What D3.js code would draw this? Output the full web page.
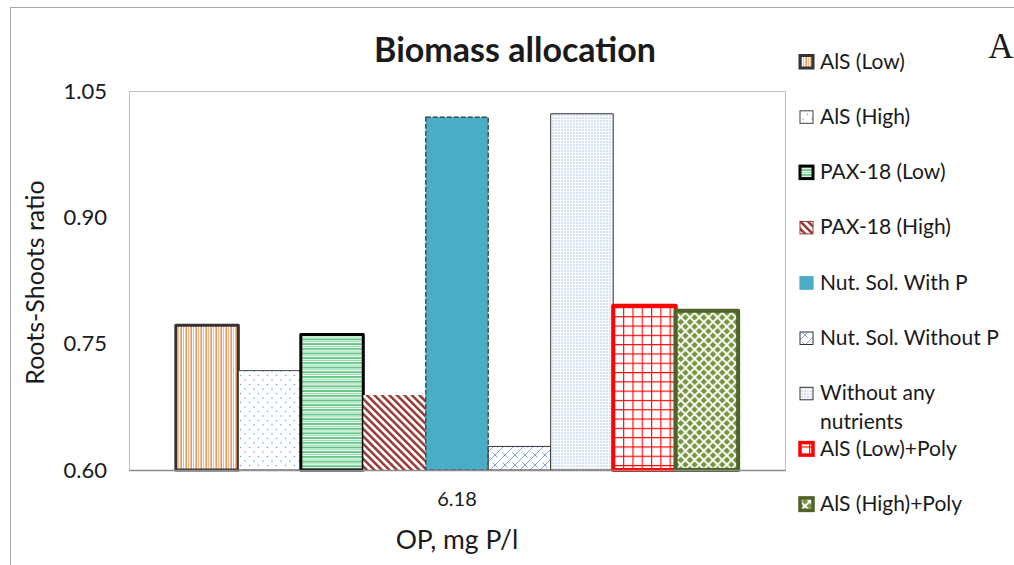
<!DOCTYPE html>
<html><head><meta charset="utf-8">
<script src="https://cdn.jsdelivr.net/npm/d3@7"></script>
<style>
html,body{margin:0;padding:0;background:#fff;}
svg{display:block;}
text{font-family:Lato,"Noto Sans",sans-serif;fill:#1a1a1a;}
</style></head>
<body>
<svg id="chart" width="1014" height="565"></svg>
<script>
// ---- data ----
const categories = ["6.18"];
const seriesNames = ["AlS (Low)", "AlS (High)", "PAX-18 (Low)", "PAX-18 (High)", "Nut. Sol. With P",
  "Nut. Sol. Without P", "Without any nutrients", "AlS (Low)+Poly", "AlS (High)+Poly"];
const values = [0.772, 0.718, 0.761, 0.689, 1.019, 0.628, 1.023, 0.795, 0.789];
const yTicks = [0.60, 0.75, 0.90, 1.05];
const legendLines = [["AlS (Low)"], ["AlS (High)"], ["PAX-18 (Low)"], ["PAX-18 (High)"], ["Nut. Sol. With P"],
  ["Nut. Sol. Without P"], ["Without any", "nutrients"], ["AlS (Low)+Poly"], ["AlS (High)+Poly"]];

// ---- styles ----
const styles = [
  {fill:"url(#pVert)",   stroke:"#333333", sw:3},
  {fill:"url(#pDots)",   stroke:"#404040", sw:1},
  {fill:"url(#pHoriz)",  stroke:"#000000", sw:3},
  {fill:"url(#pDiag)",   stroke:"none",    sw:0},
  {fill:"#4BACC6",       stroke:"#333333", sw:1.2, dash:"5,2"},
  {fill:"url(#pBrick)",  stroke:"#333333", sw:1},
  {fill:"url(#pDense)",  stroke:"#333333", sw:1},
  {fill:"url(#pGrid)",   stroke:"#FF0000", sw:4},
  {fill:"url(#pDiam)",   stroke:"#4F6228", sw:4}
];

const svg = d3.select("#chart");
const defs = svg.append("defs");

function pat(id, w, h, tr){
  const p = defs.append("pattern").attr("id", id).attr("patternUnits","userSpaceOnUse")
    .attr("width", w).attr("height", h);
  if (tr) p.attr("patternTransform", tr);
  p.append("rect").attr("width", w).attr("height", h).attr("fill", "#fff");
  return p;
}
// vertical orange stripes
let p = pat("pVert", 5, 10);
p.append("rect").attr("x",0.5).attr("width",1.3).attr("height",10).attr("fill","#ED7D31");
p.append("rect").attr("x",3).attr("width",1).attr("height",10).attr("fill","#F6B98E");
// sparse blue dots
p = pat("pDots", 9, 9);
p.append("circle").attr("cx",2).attr("cy",2).attr("r",0.7).attr("fill","#5B9BD5");
p.append("circle").attr("cx",6.5).attr("cy",6.5).attr("r",0.7).attr("fill","#5B9BD5");
// horizontal green stripes
p = pat("pHoriz", 10, 4.7);
p.append("rect").attr("y",0.3).attr("width",10).attr("height",1.3).attr("fill","#1FAE54");
p.append("rect").attr("y",2.7).attr("width",10).attr("height",1).attr("fill","#8ED8A8");
// diagonal dark red stripes
p = pat("pDiag", 5.3, 10, "rotate(-45)");
p.append("rect").attr("x",0).attr("width",2.5).attr("height",10).attr("fill","#963734");
// brick diagonal blue
p = pat("pBrick", 10, 10);
p.append("path").attr("d","M0,10L10,0M-2,2L2,-2M8,12L12,8M2.5,2.5L7.5,7.5").attr("stroke","#7FA3DA").attr("stroke-width",1).attr("fill","none");
// dense light blue dots
p = pat("pDense", 3, 3);
p.append("circle").attr("cx",1).attr("cy",1).attr("r",0.7).attr("fill","#86AEE2");
// red grid
p = pat("pGrid", 9.3, 9.3);
p.append("path").attr("d","M0.6,0V9.3M0,0.6H9.3").attr("stroke","#FF0000").attr("stroke-width",1.1).attr("fill","none");
// olive diamonds
p = pat("pDiam", 9.2, 9.2);
const dd = 3.3;
[[0,0],[9.2,0],[0,9.2],[9.2,9.2],[4.6,4.6]].forEach(([cx,cy])=>{
  p.append("path").attr("d",`M${cx},${cy-dd}L${cx+dd},${cy}L${cx},${cy+dd}L${cx-dd},${cy}Z`).attr("fill","#77933C");
});

// outer frame
svg.append("rect").attr("x",10.5).attr("y",7.5).attr("width",1100).attr("height",700)
  .attr("fill","none").attr("stroke","#A6A6A6").attr("stroke-width",1);

// ---- scales ----
const plot = {left:129, right:785, top:91, bottom:470};
const x0 = d3.scaleBand().domain(categories).range([plot.left, plot.right]).paddingInner(0).paddingOuter(0.75/9);
const x1 = d3.scaleBand().domain(seriesNames).range([0, x0.bandwidth()]).padding(0);
const y = d3.scaleLinear().domain([0.60, 1.05]).range([plot.bottom, plot.top]);

// plot area border
svg.append("rect").attr("x",plot.left+0.5).attr("y",plot.top+0.5)
  .attr("width",plot.right-plot.left).attr("height",plot.bottom-plot.top)
  .attr("fill","none").attr("stroke","#BFBFBF");

// y axis labels
const yAxis = d3.axisLeft(y).tickValues(yTicks).tickFormat(d3.format(".2f")).tickSize(0).tickPadding(22);
const ga = svg.append("g").attr("transform",`translate(${plot.left},0)`).call(yAxis);
ga.select(".domain").remove();
ga.selectAll("text").style("font-size","22px").style("font-family","Lato").attr("fill","#262626");

// bars
const g = svg.append("g");
categories.forEach(cat=>{
  seriesNames.forEach((s,i)=>{
    const st = styles[i];
    g.append("rect")
      .attr("x", x0(cat)+x1(s)).attr("y", y(values[i]))
      .attr("width", x1.bandwidth()).attr("height", y(0.60)-y(values[i]))
      .attr("fill", st.fill).attr("stroke", st.stroke).attr("stroke-width", st.sw)
      .attr("stroke-dasharray", st.dash||null).attr("stroke-linejoin","round");
  });
});

// x baseline
const xAxis = d3.axisBottom(x0).tickSize(0).tickPadding(22);
const gx = svg.append("g").attr("transform",`translate(0,${plot.bottom})`).call(xAxis);
gx.select(".domain").attr("stroke","#8C8C8C").attr("stroke-width",1.5);
gx.selectAll("text").style("font-size","20px").style("font-family","Lato").attr("fill","#262626");

// titles
svg.append("text").attr("x",515).attr("y",62).attr("text-anchor","middle")
  .style("font-size","34px").style("font-weight","bold").attr("fill","#000").text("Biomass allocation");
svg.append("text").attr("x",(plot.left+plot.right)/2).attr("y",549).attr("text-anchor","middle")
  .style("font-size","26.5px").attr("fill","#1a1a1a").text("OP, mg P/l");
svg.append("text").attr("transform",`translate(43.5,282.5) rotate(-90)`)
  .attr("text-anchor","middle").style("font-size","25px").attr("fill","#1a1a1a").text("Roots-Shoots ratio");
svg.append("text").attr("x",1001).attr("y",58).attr("text-anchor","middle")
  .style("font-family","'Liberation Serif',serif").style("font-size","35px").attr("fill","#000").text("A");

// legend
const leg = svg.append("g");
legendLines.forEach((lines,i)=>{
  const st = styles[i];
  const by = 68.5 + i*55.3;
  leg.append("rect").attr("x",800).attr("y",by-13).attr("width",13).attr("height",12.5)
    .attr("fill",st.fill).attr("stroke",st.stroke==="none"?"#963734":(st.dash?"#4BACC6":st.stroke))
    .attr("stroke-width",Math.max(1,Math.min(st.sw,3.5)));
  lines.forEach((t,j)=>{
    leg.append("text").attr("x",820).attr("y",by+j*28.7).style("font-size","21px").attr("fill","#1a1a1a").text(t);
  });
});
</script>
</body></html>
